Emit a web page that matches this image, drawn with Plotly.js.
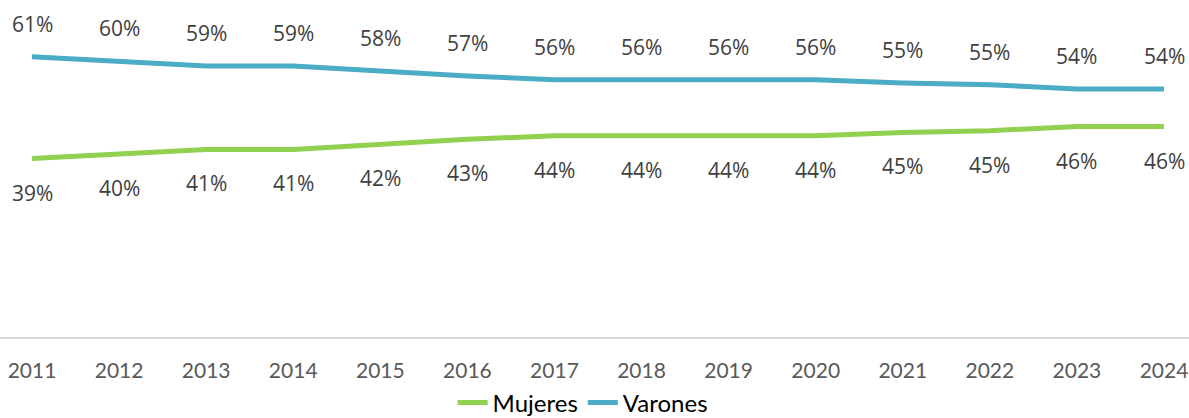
<!DOCTYPE html>
<html>
<head>
<meta charset="utf-8">
<script src="https://cdn.plot.ly/plotly-3.0.1.min.js"></script>
<style>
html,body{margin:0;padding:0;background:#fff;}
#chart{width:1189px;height:418px;}
</style>
</head>
<body>
<div id="chart"></div>
<script>
const years = [2011, 2012, 2013, 2014, 2015, 2016, 2017, 2018, 2019, 2020, 2021, 2022, 2023, 2024];
const mujeres = [38.9, 39.9, 40.9, 40.9, 42.0, 43.1, 43.9, 43.9, 43.9, 43.9, 44.6, 45.0, 45.9, 45.9];
const varones = [61.1, 60.1, 59.1, 59.1, 58.0, 56.9, 56.1, 56.1, 56.1, 56.1, 55.4, 55.0, 54.1, 54.1];
const tickLabels = years.map(String);

const colorMujeres = '#92D050';
const colorVarones = '#4BACC6';

const traces = [
  {x: years, y: mujeres, name: 'Mujeres', type: 'scatter', mode: 'lines',
   line: {color: colorMujeres, width: 5}, hoverinfo: 'skip'},
  {x: years, y: varones, name: 'Varones', type: 'scatter', mode: 'lines',
   line: {color: colorVarones, width: 5}, hoverinfo: 'skip'}
];

const labelFont = {family: 'Open Sans, sans-serif', size: 21, color: '#404040'};
const annotations = [];
years.forEach((yr, i) => {
  annotations.push({x: yr, y: varones[i], xref: 'x', yref: 'y', text: Math.round(varones[i]) + '%',
    showarrow: false, yshift: 33, font: labelFont});
  annotations.push({x: yr, y: mujeres[i], xref: 'x', yref: 'y', text: Math.round(mujeres[i]) + '%',
    showarrow: false, yshift: -34, font: labelFont});
});

const layout = {
  width: 1189, height: 418,
  margin: {l: 0, r: 0, t: 16, b: 81, autoexpand: false},
  paper_bgcolor: '#ffffff', plot_bgcolor: '#ffffff',
  showlegend: true,
  legend: {orientation: 'h', x: 0.49, xanchor: 'center', yref: 'container', y: 0.036, yanchor: 'middle',
    font: {family: 'Lato, sans-serif', size: 24, color: '#000000'}, itemwidth: 30},
  xaxis: {
    range: [2010.6325, 2024.287], tickvals: years, ticktext: tickLabels,
    showgrid: false, zeroline: false, showline: true, linecolor: '#D9D9D9', linewidth: 2,
    ticks: '', ticklabelstandoff: 14,
    tickfont: {family: 'Lato, sans-serif', size: 21, color: '#595959'}, fixedrange: true
  },
  yaxis: {range: [0, 70], visible: false, showgrid: false, zeroline: false, fixedrange: true},
  annotations: annotations
};

Plotly.newPlot('chart', traces, layout, {displayModeBar: false, staticPlot: true});
</script>
</body>
</html>
